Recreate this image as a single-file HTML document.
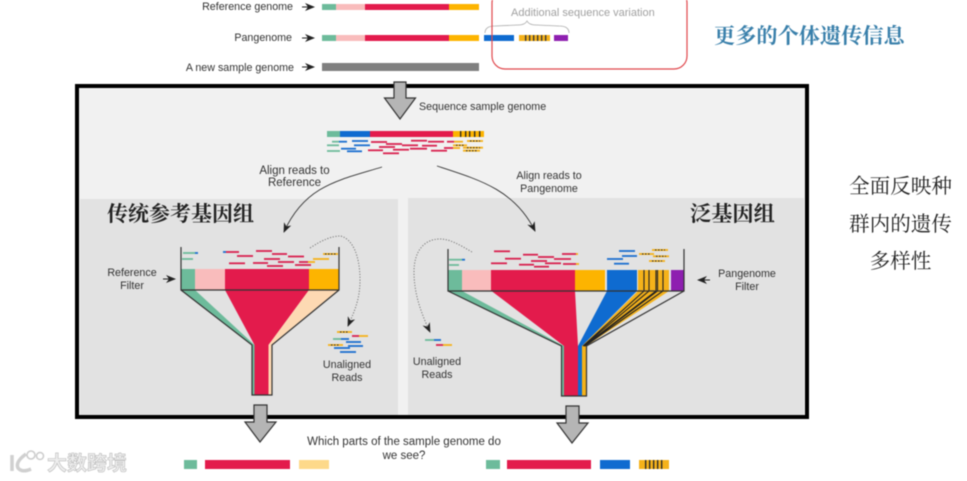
<!DOCTYPE html>
<html><head><meta charset="utf-8"><style>
html,body{margin:0;padding:0;background:#fff;width:967px;height:481px;overflow:hidden}
svg{display:block;filter:blur(.45px)}
text{font-family:"Liberation Sans","Noto Sans CJK SC",sans-serif;font-size:10.7px;fill:#333}
.c{text-anchor:middle}
.e{text-anchor:end}
.cn{font-family:"Liberation Serif","Noto Serif CJK SC",serif}
.r line{stroke-width:1.8}
.red{stroke:#d9214f}.gr{stroke:#6dbb9b}.bl{stroke:#1b6fd0}.ye{stroke:#f5b21a}
.dk{stroke:#777;stroke-width:1;stroke-dasharray:1.2 1.6;fill:none}
</style></head><body>
<svg width="967" height="481" viewBox="0 0 967 481" xmlns="http://www.w3.org/2000/svg">
<defs>
<marker id="ah" viewBox="0 0 10 8" refX="9" refY="4" markerWidth="10" markerHeight="8" orient="auto" markerUnits="userSpaceOnUse"><path d="M0 0L10 4L0 8L3 4Z" fill="#222"/></marker>
</defs>
<rect width="967" height="481" fill="#fff"/>

<!-- top rows -->
<text class="e" x="293" y="10">Reference genome</text>
<text class="e" x="292" y="41">Pangenome</text>
<text class="e" x="294" y="71">A new sample genome</text>
<g stroke="#222" stroke-width="1">
<line x1="302" y1="7" x2="314" y2="7" marker-end="url(#ah)"/>
<line x1="302" y1="38" x2="314" y2="38" marker-end="url(#ah)"/>
<line x1="302" y1="67" x2="314" y2="67" marker-end="url(#ah)"/>
</g>
<rect x="322" y="4" width="14" height="6" fill="#6dbb9b"/><rect x="336" y="4" width="29" height="6" fill="#f9bcbc"/><rect x="365" y="4" width="84" height="6" fill="#e31b4c"/><rect x="449" y="4" width="30" height="6" fill="#fdb400"/>
<rect x="322" y="35" width="14" height="6" fill="#6dbb9b"/><rect x="336" y="35" width="29" height="6" fill="#f9bcbc"/><rect x="365" y="35" width="84" height="6" fill="#e31b4c"/><rect x="449" y="35" width="30" height="6" fill="#fdb400"/>
<rect x="484" y="35" width="30" height="6" fill="#0f6bd0"/><rect x="519" y="35" width="31" height="6" fill="#f5b21a"/>
<g fill="#333"><rect x="525" y="35" width="1.300" height="6"/><rect x="529" y="35" width="1.300" height="6"/><rect x="533" y="35" width="1.300" height="6"/><rect x="537" y="35" width="1.300" height="6"/><rect x="541" y="35" width="1.300" height="6"/><rect x="545" y="35" width="1.300" height="6"/></g>
<rect x="554" y="35" width="14" height="6" fill="#8e1fb0"/>
<rect x="322" y="63" width="157" height="8" fill="#808080"/>
<path d="M485 33Q485 26 495 26L518 25Q525 25 527 21Q529 25 536 25L559 26Q569 26 569 33" fill="none" stroke="#aaa" stroke-width=".8"/>
<text x="511" y="16" style="fill:#a0a0a0;font-size:11px">Additional sequence variation</text>
<rect x="492" y="-10" width="195" height="79" rx="13" fill="none" stroke="#e0474c" stroke-width="1.200"/>
<text class="cn" x="714" y="43" style="font-size:21.200px;font-weight:700;fill:#3a80ab">更多的个体遗传信息</text>

<!-- main frame -->
<rect x="77" y="86" width="730" height="331" fill="#f1f1f1" stroke="#000" stroke-width="4"/>
<rect x="80" y="199" width="318" height="216" fill="#e2e2e2"/>
<rect x="408" y="198" width="396" height="217" fill="#e2e2e2"/>

<!-- top big arrow -->
<path d="M394 82H406V98H415.500L400 119L384.500 98H394Z" fill="#b5b5b5" stroke="#333" stroke-width="1.200"/>
<text x="419" y="110">Sequence sample genome</text>

<!-- sample bar -->
<rect x="327" y="131" width="13" height="6" fill="#6dbb9b"/><rect x="340" y="131" width="30" height="6" fill="#0f6bd0"/><rect x="370" y="131" width="83" height="6" fill="#e31b4c"/><rect x="453" y="131" width="31" height="6" fill="#fdb400"/>
<g fill="#222"><rect x="460" y="131" width="1.300" height="6"/><rect x="465" y="131" width="1.300" height="6"/><rect x="469" y="131" width="1.300" height="6"/><rect x="474" y="131" width="1.300" height="6"/><rect x="479" y="131" width="1.300" height="6"/></g>
<g class="r">
<line class="gr" x1="332" y1="141.700" x2="339" y2="141.700"/><line class="bl" x1="339" y1="141.700" x2="347" y2="141.700"/><line class="bl" x1="352" y1="141" x2="368" y2="141"/>
<line class="red" x1="371" y1="142" x2="387" y2="142"/><line class="red" x1="411" y1="140.700" x2="427" y2="140.700"/><line class="red" x1="428" y1="141.700" x2="444" y2="141.700"/><line class="red" x1="447" y1="141.700" x2="454" y2="141.700"/><line class="ye" x1="454" y1="141.700" x2="463" y2="141.700"/><line class="ye" x1="467" y1="141" x2="483" y2="141"/>
<line class="red" x1="386" y1="144" x2="402" y2="144"/>
<line class="gr" x1="327" y1="145.300" x2="339" y2="145.300"/><line class="bl" x1="354" y1="145.300" x2="370" y2="145.300"/><line class="red" x1="402" y1="145.300" x2="418" y2="145.300"/><line class="red" x1="422" y1="145.700" x2="437" y2="145.700"/><line class="ye" x1="453" y1="145.300" x2="467" y2="145.300"/>
<line class="red" x1="379" y1="147" x2="395" y2="147"/>
<line class="bl" x1="341" y1="148.700" x2="356" y2="148.700"/><line class="red" x1="410" y1="148.700" x2="427" y2="148.700"/><line class="red" x1="444" y1="148" x2="453" y2="148"/><line class="ye" x1="453" y1="148" x2="460" y2="148"/><line class="ye" x1="463" y1="147.700" x2="483" y2="147.700"/>
<line class="red" x1="368" y1="150.300" x2="383" y2="150.300"/><line class="red" x1="393" y1="149.700" x2="409" y2="149.700"/><line class="red" x1="431" y1="150.700" x2="447" y2="150.700"/><line class="gr" x1="327" y1="151" x2="340" y2="151"/><line class="bl" x1="347" y1="151.300" x2="362" y2="151.300"/><line class="ye" x1="463" y1="150.700" x2="480" y2="150.700"/>
<line class="red" x1="383" y1="153.300" x2="399" y2="153.300"/>
</g>
<g stroke="#222" stroke-width="1" stroke-dasharray="1.500 1.500"><line x1="470" y1="141" x2="480" y2="141"/><line x1="456" y1="145.300" x2="464" y2="145.300"/><line x1="467" y1="147.700" x2="480" y2="147.700"/><line x1="466" y1="150.700" x2="477" y2="150.700"/></g>

<!-- align curves -->
<text class="c" x="294.500" y="174" style="font-size:11.500px">Align reads to</text><text class="c" x="294.500" y="186" style="font-size:11.500px">Reference</text>
<text class="c" x="549" y="179">Align reads to</text><text class="c" x="549" y="192">Pangenome</text>
<path d="M382 167C340 180 305 185 284 232" fill="none" stroke="#333" stroke-width=".9" marker-end="url(#ah)"/>
<path d="M437 166C480 180 515 190 535 231" fill="none" stroke="#333" stroke-width=".9" marker-end="url(#ah)"/>

<text class="cn" x="107" y="221" style="font-size:21px;font-weight:700;fill:#222">传统参考基因组</text>
<text class="cn" x="690" y="221" style="font-size:21.200px;font-weight:700;fill:#222">泛基因组</text>

<!-- left funnel -->
<rect x="181" y="269" width="14" height="21" fill="#6dbb9b"/><rect x="195" y="269" width="30" height="21" fill="#f9bcbc"/><rect x="225" y="269" width="84" height="21" fill="#e31b4c"/><rect x="309" y="269" width="30" height="21" fill="#fdb400"/>
<path d="M181 290H195L254.500 345V395H252V345Z" fill="#6dbb9b"/>
<path d="M225 290H309L268.500 345V395H254.500V345Z" fill="#e31b4c"/>
<path d="M309 290H339L272 345V395H268.500V345Z" fill="#fdd9b3"/>
<path d="M181 247V290H339V247M181 290L252 345V395H272V345L339 290" fill="none" stroke="#333" stroke-width="1.200"/>
<g class="r">
<line class="gr" x1="183" y1="253" x2="195" y2="253"/><line class="bl" x1="195" y1="253" x2="198" y2="253"/><line class="gr" x1="182" y1="259" x2="193" y2="259"/>
<line class="bl" x1="223" y1="252" x2="226" y2="252"/><line class="red" x1="226" y1="252" x2="239" y2="252"/><line class="red" x1="237" y1="256" x2="253" y2="256"/><line class="red" x1="256" y1="251" x2="272" y2="251"/><line class="red" x1="272" y1="254" x2="287" y2="254"/><line class="red" x1="288" y1="256.500" x2="304" y2="256.500"/><line class="red" x1="264" y1="259" x2="280" y2="259"/><line class="red" x1="229" y1="263.300" x2="245" y2="263.300"/><line class="red" x1="253" y1="263" x2="268" y2="263"/><line class="red" x1="278" y1="262" x2="294" y2="262"/><line class="red" x1="299" y1="262" x2="308" y2="262"/><line class="ye" x1="308" y1="262" x2="315" y2="262"/><line class="red" x1="295" y1="265" x2="311" y2="265"/><line class="red" x1="267" y1="266" x2="283" y2="266"/>
<line class="ye" x1="323" y1="254" x2="338" y2="254"/><line class="ye" x1="313" y1="259" x2="329" y2="259"/>
<line class="ye" x1="337" y1="332" x2="352" y2="332"/><line class="red" x1="352" y1="336" x2="359" y2="336"/><line class="ye" x1="359" y1="336" x2="368" y2="336"/><line class="gr" x1="333" y1="339" x2="341" y2="339"/><line class="bl" x1="341" y1="339" x2="349" y2="339"/><line class="bl" x1="346" y1="342" x2="361" y2="342"/><line class="ye" x1="328" y1="345" x2="343" y2="345"/><line class="bl" x1="348" y1="346" x2="363" y2="346"/><line class="bl" x1="334" y1="348" x2="350" y2="348"/><line class="bl" x1="340" y1="352" x2="356" y2="352"/>
</g>
<g stroke="#222" stroke-width="1" stroke-dasharray="1.500 1.500"><line x1="325" y1="254" x2="336" y2="254"/><line x1="340" y1="332" x2="349" y2="332"/><line x1="331" y1="345" x2="340" y2="345"/></g>
<path class="dk" d="M310 248C322 240 332 236 340 236C352 238 360 255 360 280C360 300 354 312 348 326" marker-end="url(#ah)"/>
<text class="c" x="132" y="276">Reference</text><text class="c" x="132" y="289">Filter</text>
<text class="c" x="347" y="368">Unaligned</text><text class="c" x="347" y="381">Reads</text>
<line x1="163" y1="279" x2="175" y2="279" stroke="#222" stroke-width="1" marker-end="url(#ah)"/>

<!-- right funnel -->
<rect x="448" y="270" width="14" height="21" fill="#6dbb9b"/><rect x="462" y="270" width="29" height="21" fill="#f9bcbc"/><rect x="491" y="270" width="84" height="21" fill="#e31b4c"/><rect x="575" y="270" width="30" height="21" fill="#fdb400"/><rect x="607" y="270" width="30" height="21" fill="#0f6bd0"/><rect x="638" y="270" width="31" height="21" fill="#f5b21a"/><rect x="671" y="270" width="13" height="21" fill="#8e1fb0"/>
<path d="M448 291H462L564 346V396H561.500V346Z" fill="#6dbb9b"/>
<path d="M491.500 291H575L578 346V396H564V346Z" fill="#e31b4c"/>
<path d="M607 291H637L582 346V396H578V346Z" fill="#0f6bd0"/>
<path d="M638 291H669L586 346V396H582V346Z" fill="#f5b21a"/>
<g stroke="#222" stroke-width="1.100"><path d="M644 270V291L583 346M649 270V291L583.500 346M656 270V291L584 346M657.500 270V291L584.500 346M663 270V291L585 346" fill="none"/></g>
<path d="M448 249V291H684V249M448 291L561.500 346V396H586.500V346L684 291" fill="none" stroke="#333" stroke-width="1.200"/>
<g class="r">
<line class="red" x1="494" y1="251.300" x2="510" y2="251.300"/><line class="red" x1="523" y1="254.700" x2="538" y2="254.700"/><line class="red" x1="538" y1="257" x2="554" y2="257"/><line class="red" x1="562" y1="254" x2="576" y2="254"/><line class="ye" x1="576" y1="254" x2="578" y2="254"/><line class="red" x1="505" y1="258.700" x2="521" y2="258.700"/><line class="red" x1="554" y1="259" x2="571" y2="259"/><line class="red" x1="531" y1="261" x2="547" y2="261"/><line class="red" x1="491" y1="263.300" x2="507" y2="263.300"/><line class="red" x1="545" y1="263.300" x2="561" y2="263.300"/><line class="red" x1="519" y1="264.700" x2="534" y2="264.700"/><line class="red" x1="563" y1="264" x2="576" y2="264"/><line class="ye" x1="576" y1="264" x2="579" y2="264"/><line class="red" x1="534" y1="266.700" x2="549" y2="266.700"/>
<line class="gr" x1="449" y1="259.700" x2="462" y2="259.700"/><line class="bl" x1="462" y1="259.700" x2="465" y2="259.700"/><line class="gr" x1="449" y1="265" x2="459" y2="265"/>
<line class="bl" x1="619" y1="251" x2="635" y2="251"/><line class="bl" x1="622" y1="256" x2="637" y2="256"/><line class="bl" x1="607" y1="259" x2="623" y2="259"/><line class="bl" x1="614" y1="263.700" x2="629" y2="263.700"/>
<line class="ye" x1="652" y1="250" x2="668" y2="250"/><line class="ye" x1="639" y1="254" x2="654" y2="254"/><line class="ye" x1="653" y1="256.300" x2="669" y2="256.300"/><line class="ye" x1="649" y1="261" x2="665" y2="261"/>
<line class="gr" x1="425" y1="340" x2="434" y2="340"/><line class="bl" x1="434" y1="340" x2="441" y2="340"/><line class="red" x1="436" y1="345" x2="443" y2="345"/><line class="ye" x1="443" y1="345" x2="452" y2="345"/>
</g>
<g stroke="#222" stroke-width="1" stroke-dasharray="1.500 1.500"><line x1="655" y1="250" x2="665" y2="250"/><line x1="642" y1="254" x2="651" y2="254"/><line x1="656" y1="256.300" x2="666" y2="256.300"/><line x1="652" y1="261" x2="662" y2="261"/></g>
<path class="dk" d="M472 252C460 245 450 239 440 239C425 239 414 250 414 272C414 295 422 315 430 332" marker-end="url(#ah)"/>
<text class="c" x="437" y="365">Unaligned</text><text class="c" x="437" y="378">Reads</text>
<text class="c" x="747" y="277">Pangenome</text><text class="c" x="747" y="290">Filter</text>
<line x1="710" y1="280" x2="698" y2="280" stroke="#222" stroke-width="1" marker-end="url(#ah)"/>

<!-- bottom arrows -->
<path d="M254 405H267V422H276L260 442L245 422H254Z" fill="#b5b5b5" stroke="#333" stroke-width="1.200"/>
<path d="M566 406H579V423H588L572 443L557 423H566Z" fill="#b5b5b5" stroke="#333" stroke-width="1.200"/>

<text class="c" x="404" y="445" style="font-size:11.500px">Which parts of the sample genome do</text><text class="c" x="404" y="459" style="font-size:11.500px">we see?</text>

<!-- bottom bars -->
<rect x="184" y="460" width="13" height="9" fill="#6dbb9b"/><rect x="205" y="460" width="85" height="9" fill="#e31b4c"/><rect x="299" y="460" width="30" height="9" fill="#fdd98a"/>
<rect x="486" y="460" width="14" height="9" fill="#6dbb9b"/><rect x="507" y="460" width="84" height="9" fill="#e31b4c"/><rect x="600" y="460" width="30" height="9" fill="#0f6bd0"/><rect x="639" y="460" width="30" height="9" fill="#f5b21a"/>
<g fill="#222"><rect x="645" y="460" width="1.300" height="9"/><rect x="649" y="460" width="1.300" height="9"/><rect x="653" y="460" width="1.300" height="9"/><rect x="657" y="460" width="1.300" height="9"/><rect x="661" y="460" width="1.300" height="9"/></g>

<!-- right notes -->
<text class="c cn" x="900.500" y="193" style="font-size:20.600px;fill:#222">全面反映种</text>
<text class="c cn" x="900.500" y="231" style="font-size:20.600px;fill:#222">群内的遗传</text>
<text class="c cn" x="900.500" y="268" style="font-size:20.600px;fill:#222">多样性</text>

<!-- watermark -->
<path d="M12 455V471M26 454Q15 462 18 468Q22 473 31 469" fill="none" stroke="#d0d0d0" stroke-width="3.500"/>
<circle cx="31" cy="455" r="4" fill="none" stroke="#ccc" stroke-width="1.500"/><circle cx="40" cy="456" r="3.500" fill="none" stroke="#ccc" stroke-width="1.500"/>
<text x="47" y="470" style="font-size:20px;font-weight:700;fill:#eee;stroke:#bbb;stroke-width:.6px">大数跨境</text>
</svg>
</body></html>
